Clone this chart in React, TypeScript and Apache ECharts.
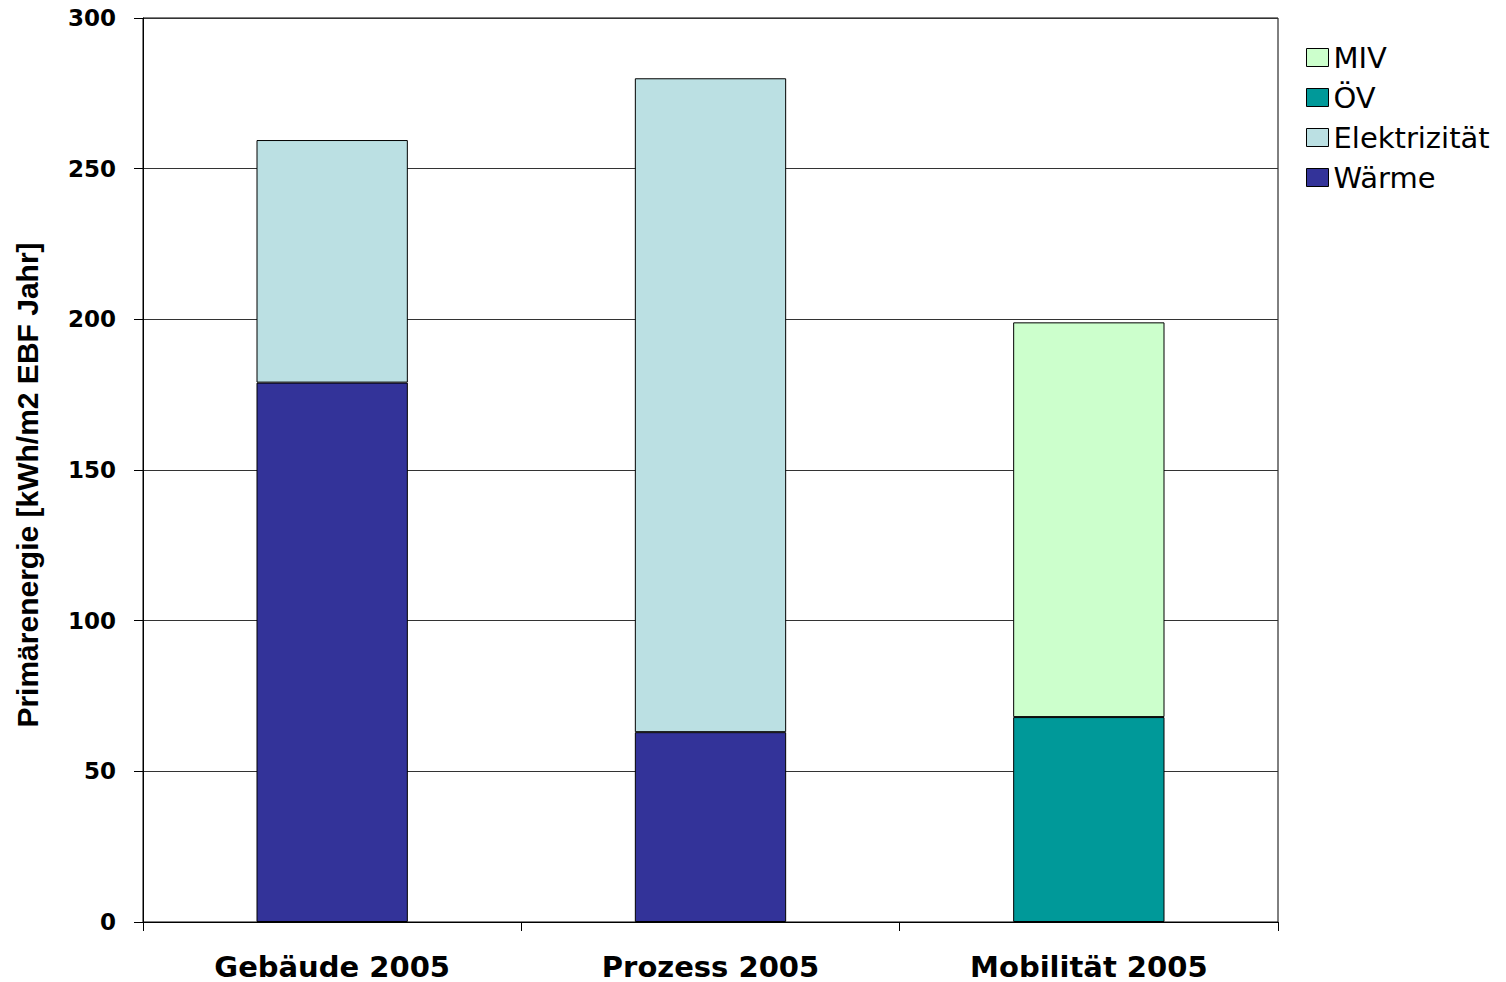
import React, { useEffect, useRef } from "react";
import * as echarts from "echarts";

const categories = ["Gebäude 2005", "Prozess 2005", "Mobilität 2005"];
const waerme = [179, 63, null];
const elektrizitaet = [80.5, 217, null];
const oev = [null, null, 68];
const miv = [null, null, 131];
const legendOrder = ["MIV", "ÖV", "Elektrizität", "Wärme"];
const yTitle = "Primärenergie [kWh/m2 EBF Jahr]";

export default function App() {
  const ref = useRef<HTMLDivElement>(null);
  useEffect(() => {
    if (!ref.current) return;
    const chart = echarts.init(ref.current, undefined, { renderer: "svg" });
    const barStyle = (color: string) => ({
      color,
      borderColor: "#000",
      borderWidth: 1,
    });
    chart.setOption({
      animation: false,
      backgroundColor: "#fff",
      grid: {
        left: 143,
        right: 228,
        top: 18,
        bottom: 60,
        show: true,
        borderColor: "#000",
        borderWidth: 1,
        backgroundColor: "transparent",
      },
      legend: {
        orient: "vertical",
        left: 1301,
        top: 38,
        itemWidth: 22,
        itemHeight: 18,
        itemGap: 11,
        selectedMode: false,
        icon: "rect",
        data: legendOrder,
        itemStyle: { borderColor: "#000", borderWidth: 1 },
        textStyle: {
          fontFamily: "DejaVu Sans",
          fontSize: 29,
          color: "#000",
        },
      },
      xAxis: {
        type: "category",
        data: categories,
        boundaryGap: true,
        axisLine: { show: true, lineStyle: { color: "#000", width: 1 } },
        axisTick: { show: true, length: 9, lineStyle: { color: "#000" } },
        axisLabel: {
          fontFamily: "DejaVu Sans",
          fontWeight: "bold",
          fontSize: 29,
          lineHeight: 29,
          color: "#000",
          margin: 30,
        },
      },
      yAxis: {
        type: "value",
        min: 0,
        max: 300,
        interval: 50,
        axisLine: { show: true, lineStyle: { color: "#000", width: 1 } },
        axisTick: { show: true, length: 9, lineStyle: { color: "#000" } },
        splitLine: { show: true, lineStyle: { color: "#333", width: 1 } },
        axisLabel: {
          fontFamily: "DejaVu Sans",
          fontWeight: "bold",
          fontSize: 23,
          color: "#000",
          margin: 27,
        },
      },
      graphic: [
        {
          type: "text",
          x: 27,
          y: 485,
          rotation: Math.PI / 2,
          style: {
            text: yTitle,
            fontFamily: "Liberation Sans",
            fontWeight: "bold",
            fontSize: 30,
            fill: "#000",
            align: "center",
            verticalAlign: "middle",
          },
        },
      ],
      series: [
        { name: "Wärme", type: "bar", stack: "total", barWidth: "40%", data: waerme, itemStyle: barStyle("#333399") },
        { name: "Elektrizität", type: "bar", stack: "total", barWidth: "40%", data: elektrizitaet, itemStyle: barStyle("#BBE0E3") },
        { name: "ÖV", type: "bar", stack: "total", barWidth: "40%", data: oev, itemStyle: barStyle("#009999") },
        { name: "MIV", type: "bar", stack: "total", barWidth: "40%", data: miv, itemStyle: barStyle("#CCFFCC") },
      ],
    });
    return () => chart.dispose();
  }, []);
  return (
    <div
      ref={ref}
      style={{ position: "fixed", left: 0, top: 0, width: 1506, height: 982 }}
    />
  );
}
